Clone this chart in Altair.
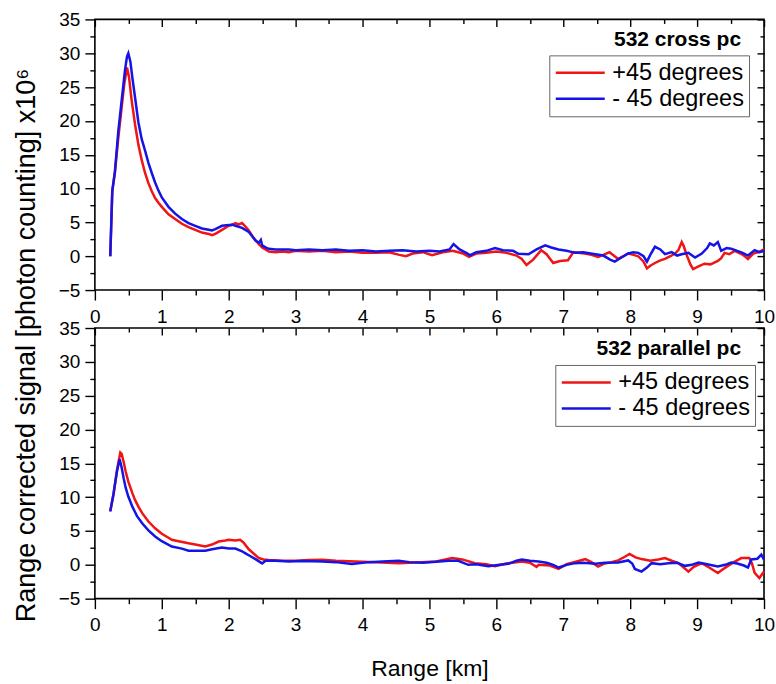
import altair as alt
import pandas as pd

# ---------------- data ----------------
SERIES = ["+45 degrees", "- 45 degrees"]
COLORS = ["#f01414", "#1414e6"]
PANEL_TITLES = ["532 cross pc", "532 parallel pc"]
X_TITLE = "Range [km]"
Y_TITLE = "Range corrected signal  [photon counting] x10\u2076"

X_TICKS = [0, 0.5, 1, 1.5, 2, 2.5, 3, 3.5, 4, 4.5, 5, 5.5, 6, 6.5, 7, 7.5, 8, 8.5, 9, 9.5, 10]
Y_TICKS = [-5, -2.5, 0, 2.5, 5, 7.5, 10, 12.5, 15, 17.5, 20, 22.5, 25, 27.5, 30, 32.5, 35]

# top panel: 532 cross pc
cross_p45_x = [0.23, 0.26, 0.30, 0.35, 0.40, 0.44, 0.48, 0.51, 0.55, 0.60, 0.65, 0.70, 0.75, 0.80,
               0.85, 0.90, 0.95, 1.00, 1.10, 1.20, 1.30, 1.40, 1.50, 1.60, 1.70, 1.75, 1.80, 1.90,
               2.00, 2.05, 2.10, 2.15, 2.20, 2.25, 2.30, 2.35, 2.40, 2.45, 2.50, 2.55, 2.60, 2.70,
               2.80, 2.90, 3.00, 3.20, 3.40, 3.60, 3.80, 4.00, 4.20, 4.40, 4.55, 4.65, 4.75, 4.90,
               5.04, 5.20, 5.35, 5.50, 5.59, 5.70, 5.85, 6.00, 6.15, 6.30, 6.38, 6.45, 6.55, 6.67,
               6.75, 6.85, 6.95, 7.07, 7.15, 7.32, 7.42, 7.52, 7.60, 7.69, 7.82, 7.90, 7.97, 8.05,
               8.12, 8.20, 8.25, 8.30, 8.37, 8.45, 8.52, 8.60, 8.67, 8.72, 8.77, 8.80, 8.84, 8.90,
               8.94, 9.02, 9.11, 9.20, 9.31, 9.36, 9.41, 9.48, 9.56, 9.65, 9.70, 9.76, 9.84, 9.92,
               10.00]
cross_p45_y = [0.0, 9.5, 12.5, 17.5, 22.0, 25.5, 27.9, 26.5, 23.0, 19.5, 16.5, 14.2, 12.3, 10.8,
               9.6, 8.6, 7.9, 7.3, 6.2, 5.5, 4.8, 4.3, 3.9, 3.5, 3.3, 3.1, 3.3, 3.9,
               4.5, 4.6, 4.9, 4.7, 4.9, 4.4, 3.8, 3.0, 2.4, 1.8, 1.3, 1.0, 0.7, 0.6,
               0.7, 0.6, 0.8, 0.7, 0.8, 0.6, 0.7, 0.5, 0.5, 0.6, 0.2, 0.0, 0.4, 0.6,
               0.15, 0.6, 0.8, 0.4, -0.1, 0.4, 0.5, 0.7, 0.5, 0.1, -0.4, -1.3, -0.5, 0.9,
               0.3, -1.0, -0.7, -0.6, 0.6, 0.4, 0.2, -0.1, 0.2, 0.6, -0.4, 0.0, 0.4, 0.2,
               0.0, -0.8, -1.8, -1.4, -1.0, -0.6, -0.4, 0.0, 0.4, 0.9, 2.1, 1.5, 0.3, -1.2,
               -1.9, -1.5, -1.1, -1.2, -0.7, -0.3, 0.5, 0.3, 0.8, 0.4, 0.1, -0.4, 0.4, 0.6,
               1.0]
cross_m45_x = [0.23, 0.26, 0.30, 0.35, 0.40, 0.45, 0.48, 0.50, 0.53, 0.56, 0.60, 0.65, 0.70, 0.75,
               0.80, 0.85, 0.90, 0.95, 1.00, 1.10, 1.20, 1.30, 1.40, 1.50, 1.60, 1.70, 1.75, 1.80,
               1.90, 2.00, 2.05, 2.10, 2.20, 2.30, 2.35, 2.40, 2.45, 2.48, 2.50, 2.55, 2.60, 2.70,
               2.80, 2.90, 3.00, 3.20, 3.40, 3.60, 3.80, 4.00, 4.20, 4.40, 4.60, 4.80, 5.00, 5.15,
               5.30, 5.36, 5.45, 5.55, 5.61, 5.70, 5.85, 5.98, 6.10, 6.25, 6.33, 6.48, 6.60, 6.73,
               6.82, 6.93, 7.05, 7.18, 7.30, 7.48, 7.60, 7.70, 7.77, 7.85, 7.97, 8.05, 8.12, 8.20,
               8.25, 8.30, 8.37, 8.45, 8.52, 8.62, 8.70, 8.77, 8.87, 8.97, 9.07, 9.15, 9.19, 9.25,
               9.31, 9.36, 9.44, 9.51, 9.60, 9.68, 9.76, 9.86, 9.93, 10.00]
cross_m45_y = [0.0, 9.7, 12.5, 18.5, 23.0, 27.5, 29.5, 30.0, 28.8, 26.4, 23.5, 19.8, 17.3, 15.6,
               13.8, 12.3, 10.9, 9.7, 8.7, 7.3, 6.3, 5.5, 4.9, 4.5, 4.1, 3.9, 3.8, 4.0,
               4.5, 4.6, 4.7, 4.5, 4.2, 3.6, 3.0, 2.3, 2.0, 2.4, 1.6, 1.3, 1.1, 1.0,
               1.0, 1.0, 0.9, 1.0, 0.9, 1.0, 0.8, 0.9, 0.7, 0.8, 0.9, 0.7, 0.8, 0.7,
               1.0, 1.8, 1.0, 0.5, 0.15, 0.6, 0.8, 1.2, 0.9, 0.8, 0.35, 0.3, 1.0, 1.6,
               1.3, 1.0, 0.8, 0.5, 0.6, 0.3, 0.1, -0.5, -0.8, -0.3, 0.4, 0.6, 0.5, 0.0,
               -0.8, 0.2, 1.4, 1.0, 0.3, 0.6, 0.1, 0.3, 0.5, -0.2, 0.4, 1.2, 1.9, 1.6,
               2.1, 0.8, 1.2, 1.1, 0.8, 0.5, 0.1, 0.9, 0.6, 0.8]

# bottom panel: 532 parallel pc
par_p45_x = [0.23, 0.28, 0.33, 0.38, 0.40, 0.43, 0.46, 0.50, 0.56, 0.60, 0.65, 0.71, 0.80, 0.90,
             1.00, 1.10, 1.15, 1.25, 1.40, 1.50, 1.65, 1.75, 1.85, 1.95, 2.00, 2.10, 2.17, 2.22,
             2.30, 2.38, 2.45, 2.52, 2.60, 2.80, 3.00, 3.20, 3.40, 3.60, 3.90, 4.20, 4.54, 4.80,
             5.10, 5.34, 5.49, 5.68, 5.85, 5.98, 6.15, 6.38, 6.50, 6.60, 6.63, 6.80, 6.93, 7.05,
             7.20, 7.33, 7.42, 7.52, 7.62, 7.72, 7.82, 7.92, 7.99, 8.08, 8.17, 8.30, 8.42, 8.52,
             8.62, 8.72, 8.80, 8.87, 8.95, 9.07, 9.18, 9.31, 9.38, 9.46, 9.55, 9.66, 9.78, 9.82,
             9.86, 9.93, 10.00]
par_p45_y = [7.9, 10.5, 14.0, 16.6, 16.4, 15.2, 13.8, 12.3, 10.6, 9.6, 8.6, 7.6, 6.4, 5.4,
             4.6, 4.0, 3.7, 3.5, 3.2, 3.0, 2.7, 3.0, 3.45, 3.6, 3.7, 3.6, 3.7, 3.3,
             2.3, 1.6, 1.0, 0.8, 0.7, 0.6, 0.6, 0.7, 0.75, 0.6, 0.5, 0.4, 0.25, 0.35,
             0.5, 1.0, 0.8, 0.25, 0.1, -0.2, 0.2, 0.5, 0.3, -0.3, 0.0, -0.1, -0.6, 0.1,
             0.5, 0.85, 0.4, -0.25, 0.2, 0.4, 0.65, 1.2, 1.6, 1.1, 0.85, 0.6, 0.8, 1.0,
             0.6, 0.25, -0.4, -1.0, -0.3, 0.25, -0.4, -1.2, -0.7, -0.15, 0.4, 1.0, 1.0, 0.2,
             -1.2, -1.95, -1.0]
par_m45_x = [0.23, 0.28, 0.33, 0.37, 0.40, 0.43, 0.46, 0.50, 0.56, 0.63, 0.71, 0.80, 0.90, 1.00,
             1.15, 1.30, 1.40, 1.55, 1.65, 1.75, 1.90, 2.00, 2.10, 2.20, 2.25, 2.32, 2.40, 2.47,
             2.50, 2.55, 2.70, 2.90, 3.10, 3.40, 3.60, 3.84, 4.10, 4.30, 4.54, 4.70, 4.90, 5.10,
             5.29, 5.43, 5.58, 5.70, 5.88, 6.05, 6.18, 6.30, 6.38, 6.50, 6.63, 6.75, 6.85, 6.93,
             7.05, 7.18, 7.30, 7.48, 7.62, 7.82, 7.97, 8.03, 8.07, 8.17, 8.25, 8.32, 8.45, 8.57,
             8.70, 8.82, 8.92, 9.02, 9.15, 9.31, 9.42, 9.51, 9.60, 9.70, 9.76, 9.81, 9.90, 9.96,
             10.00]
par_m45_y = [7.9, 10.6, 13.8, 15.6, 14.4, 12.8, 11.4, 10.1, 8.6, 7.2, 6.1, 5.1, 4.2, 3.5,
             2.7, 2.4, 2.1, 2.1, 2.1, 2.3, 2.55, 2.4, 2.4, 2.0, 1.7, 1.3, 0.85, 0.4,
             0.2, 0.6, 0.6, 0.5, 0.55, 0.5, 0.4, 0.14, 0.4, 0.5, 0.6, 0.4, 0.3, 0.45,
             0.6, 0.6, 0.0, 0.1, -0.2, 0.0, 0.15, 0.6, 0.8, 0.6, 0.5, 0.3, 0.0, -0.4,
             0.0, 0.25, 0.3, 0.15, 0.3, 0.35, 0.65, 0.2, -0.6, -1.0, -0.4, 0.25, 0.1, 0.25,
             0.3, -0.15, 0.0, 0.35, 0.1, -0.25, 0.0, 0.35, 0.2, -0.1, -0.4, 0.8, 0.9, 1.5,
             0.75]

FONT = "Liberation Sans"


def frame(xs_list, ys_list):
    rows = []
    for name, xs, ys in zip(SERIES, xs_list, ys_list):
        for i, (x, y) in enumerate(zip(xs, ys)):
            rows.append({"range": x, "signal": y, "series": name, "order": i})
    return pd.DataFrame(rows)


cross_df = frame([cross_p45_x, cross_m45_x], [cross_p45_y, cross_m45_y])
par_df = frame([par_p45_x, par_m45_x], [par_p45_y, par_m45_y])

XSCALE = alt.Scale(domain=[0, 10], nice=False, zero=False)
YSCALE = alt.Scale(domain=[-5, 35], nice=False, zero=False)
MAJOR_X = "datum.value % 1 === 0"
MAJOR_Y = "datum.value % 5 === 0"


def panel(df, title_text, lx, ly, x_title):
    x_kwargs = dict(
        orient="bottom", values=X_TICKS, grid=False, domain=False, labelFlush=False,
        tickSize={"condition": {"test": MAJOR_X, "value": 10}, "value": 5},
        labelExpr=f"{MAJOR_X} ? format(datum.value, 'd') : ''",
        labelFontSize=19, labelPadding=7, labelFont=FONT, labelColor="black",
        tickColor="black", tickWidth=1.4,
    )
    if x_title:
        x_axis = alt.Axis(title=x_title, titleFontSize=23, titleFont=FONT,
                          titleFontWeight="normal", titleColor="black",
                          titlePadding=23, **x_kwargs)
    else:
        x_axis = alt.Axis(title=None, **x_kwargs)
    y_axis = alt.Axis(
        orient="left", values=Y_TICKS, grid=False, domain=False, title=None, labelFlush=False,
        tickSize={"condition": {"test": MAJOR_Y, "value": 10}, "value": 5},
        labelExpr=f"{MAJOR_Y} ? datum.label : ''",
        labelFontSize=19, labelPadding=5, labelFont=FONT, labelColor="black",
        tickColor="black", tickWidth=1.4,
    )
    lines = alt.Chart(df).mark_line(strokeWidth=2.5).encode(
        x=alt.X("range:Q", scale=XSCALE, axis=x_axis),
        y=alt.Y("signal:Q", scale=YSCALE, axis=y_axis),
        color=alt.Color("series:N", scale=alt.Scale(domain=SERIES, range=COLORS),
                        legend=alt.Legend(
                            title=None, orient="none", legendX=lx, legendY=ly,
                            symbolType="stroke", symbolSize=2400, symbolStrokeWidth=2.5,
                            labelFontSize=23.5, labelFont=FONT, labelColor="black",
                            strokeColor="#666666", fillColor="white", padding=5,
                            rowPadding=1, clipHeight=25, labelOffset=6)),
        order="order:Q",
    )

    def inner(size, xvals, yvals):
        return alt.Chart(df).mark_line(strokeOpacity=0).encode(
            x=alt.X("range:Q", scale=XSCALE, axis=alt.Axis(
                orient="top", values=xvals, title=None, labels=False, grid=False,
                domain=False, tickSize=size, offset=-size, tickColor="black", tickWidth=1.4)),
            y=alt.Y("signal:Q", scale=YSCALE, axis=alt.Axis(
                orient="right", values=yvals, title=None, labels=False, grid=False,
                domain=False, tickSize=size, offset=-size, tickColor="black", tickWidth=1.4)),
            detail="series:N",
        )

    major = inner(7, [0, 1, 2, 3, 4, 5, 6, 7, 8, 9, 10], [-5, 0, 5, 10, 15, 20, 25, 30, 35])
    minor = inner(4, [0.5, 1.5, 2.5, 3.5, 4.5, 5.5, 6.5, 7.5, 8.5, 9.5],
                  [-2.5, 2.5, 7.5, 12.5, 17.5, 22.5, 27.5, 32.5])
    label = alt.Chart(pd.DataFrame({"t": [title_text]})).mark_text(
        align="right", baseline="middle", font=FONT,
        fontSize=21, fontWeight="bold", color="black",
    ).encode(text="t:N", x=alt.value(647), y=alt.value(21))

    return alt.layer(lines, major, minor, label).resolve_axis(
        x="independent", y="independent"
    ).properties(width=670, height=271)


top = panel(cross_df, PANEL_TITLES[0], 455, 36, None)
bottom = panel(par_df, PANEL_TITLES[1], 461, 37, X_TITLE)

chart = alt.vconcat(top, bottom, spacing=38, bounds="flush").resolve_scale(
    color="independent"
).properties(
    title=alt.TitleParams(text=Y_TITLE, orient="left", anchor="middle", fontSize=27,
                          font=FONT, fontWeight="normal", color="black", offset=16),
    padding={"left": 13, "top": 9, "right": 0, "bottom": 0},
).configure_view(stroke="black", strokeWidth=1.6)

chart.save("out.html", embed_options={"renderer": "svg", "actions": False})
